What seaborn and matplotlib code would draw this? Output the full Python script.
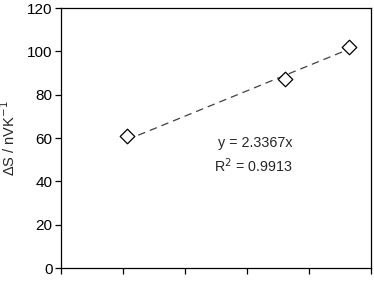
import numpy as np
import pandas as pd
import matplotlib
matplotlib.use("Agg")
import matplotlib.pyplot as plt
import seaborn as sns

# Data
x_vals = [25.3, 38.1, 43.2]
y_vals = [61.0, 87.4, 102.0]
slope = 2.3367
r2 = 0.9913
y_ticks = [0, 20, 40, 60, 80, 100, 120]
x_ticks = [20, 25, 30, 35, 40, 45]
y_label = "ΔS / nVK$^{-1}$"

sns.set_style("ticks")
plt.rcParams["font.family"] = ["Liberation Sans", "DejaVu Sans"]

fig = plt.figure(figsize=(3.74, 2.84), dpi=100)
ax = fig.add_axes([0.163, 0.0563, 0.829, 0.9155])

df = pd.DataFrame({"x": x_vals, "y": y_vals})
fit = pd.DataFrame({"x": [x_vals[0], x_vals[-1]]})
fit["y"] = slope * fit["x"]

sns.lineplot(data=fit, x="x", y="y", ax=ax, color="#404040", lw=0.9,
             linestyle=(0, (6, 4)), zorder=2)
sns.scatterplot(data=df, x="x", y="y", ax=ax, marker="D", s=55,
                facecolor="white", edgecolor="black", linewidth=0.9, zorder=3)

ax.set_xlim(x_ticks[0], x_ticks[-1])
ax.set_ylim(y_ticks[0], y_ticks[-1])
ax.set_yticks(y_ticks)
ax.set_xticks(x_ticks)
ax.set_xticklabels([])
ax.set_xlabel("")
ax.set_ylabel(y_label, fontsize=10.5)
ax.yaxis.set_label_coords(-0.138, 0.5)

for s in ax.spines.values():
    s.set_visible(True)
    s.set_color("black")
    s.set_linewidth(0.9)
ax.tick_params(axis="both", direction="out", length=4, width=0.9, colors="black",
               labelsize=11, pad=2)
ax.tick_params(top=False, right=False)

ax.text(0.505, 0.48, f"y = {slope}x", transform=ax.transAxes, fontsize=10.3,
        va="center", ha="left")
ax.text(0.495, 0.395, f"R$^2$ = {r2}", transform=ax.transAxes, fontsize=10.3,
        va="center", ha="left")

fig.savefig("out.png", dpi=100)
